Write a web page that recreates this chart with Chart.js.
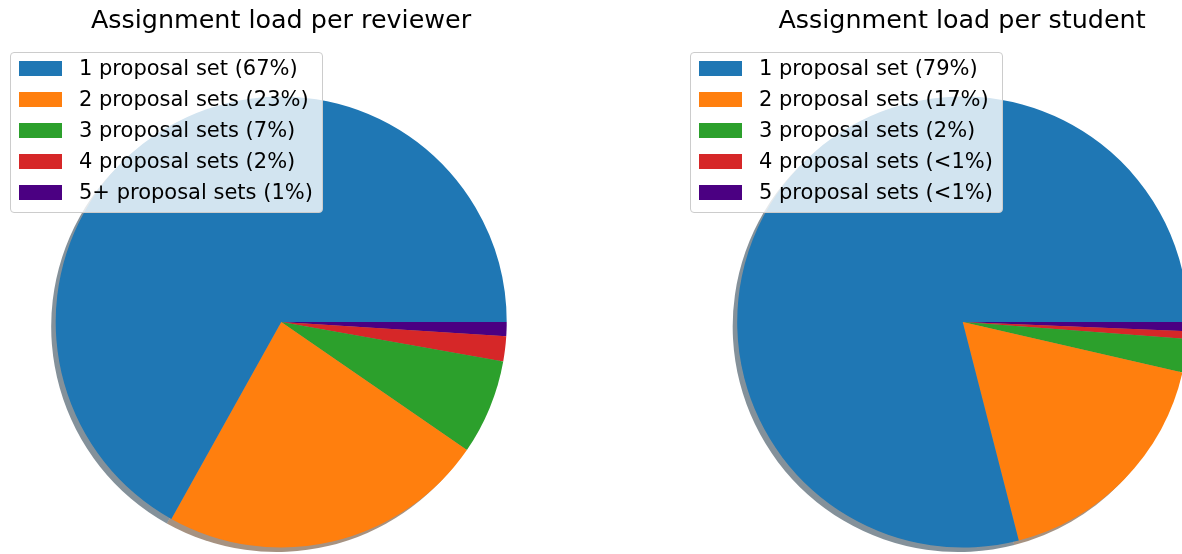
<!DOCTYPE html>
<html>
<head>
<meta charset="utf-8">
<script src="https://cdn.jsdelivr.net/npm/chart.js@4.4.1/dist/chart.umd.min.js"></script>
<style>
  html, body { margin: 0; padding: 0; background: #fff; overflow: hidden; }
  body { width: 1182px; height: 554px; position: relative; font-family: "DejaVu Sans", sans-serif; }
  .wrap { position: absolute; top: 0; height: 554px; }
  .title { position: absolute; top: 7px; font-size: 25.4px; line-height: 25px; color: #000; white-space: nowrap; transform: translateX(-50%); }
  .legend { position: absolute; top: 52px; background: rgba(255,255,255,0.8); border: 1px solid #cccccc; border-radius: 4px; padding: 0 9px 4px 8px; }
  .legend .row { display: flex; align-items: flex-start; height: 31px; line-height: 31px; font-size: 21px; white-space: nowrap; color: #000; }
  .legend .sw { width: 43px; height: 15px; margin-top: 8px; margin-right: 17px; flex: none; }
</style>
</head>
<body>
<div class="wrap" style="left:0;width:591px"><canvas id="pieReviewer" width="591" height="554"></canvas></div>
<div class="wrap" style="left:591px;width:660px"><canvas id="pieStudent" width="660" height="554"></canvas></div>
<div class="title" style="left:281px">Assignment load per reviewer</div>
<div class="title" style="left:962px">Assignment load per student</div>
<div class="legend" id="legReviewer" style="left:10px"></div>
<div class="legend" id="legStudent" style="left:690px"></div>

<script>
const categoriesReviewer = ['1 proposal set', '2 proposal sets', '3 proposal sets', '4 proposal sets', '5+ proposal sets'];
const pctReviewer = ['67%', '23%', '7%', '2%', '1%'];
const valuesReviewer = [66.9, 23.5, 6.8, 1.8, 1.0];

const categoriesStudent = ['1 proposal set', '2 proposal sets', '3 proposal sets', '4 proposal sets', '5 proposal sets'];
const pctStudent = ['79%', '17%', '2%', '<1%', '<1%'];
const valuesStudent = [79.0, 17.4, 2.4, 0.55, 0.65];

const sliceColors = ['#1f77b4', '#ff7f0e', '#2ca02c', '#d62728', '#4b0082'];

function hexToRgb(h) {
  const n = parseInt(h.slice(1), 16);
  return [(n >> 16) & 255, (n >> 8) & 255, n & 255];
}

// matplotlib-style shadow: each wedge offset down-left, 0.3 * colour at half alpha
const pieShadow = {
  id: 'pieShadow',
  beforeDatasetsDraw(chart) {
    const ctx = chart.ctx;
    const meta = chart.getDatasetMeta(0);
    const colors = chart.data.datasets[0].backgroundColor;
    const r0 = meta.data.length ? meta.data[0].outerRadius : 0;
    const off = r0 * 0.02;
    ctx.save();
    meta.data.forEach((arc, i) => {
      const p = arc.getProps(['x', 'y', 'startAngle', 'endAngle', 'outerRadius'], true);
      const c = hexToRgb(colors[i]);
      ctx.fillStyle = 'rgba(' + c.map(v => Math.round(v * 0.3)).join(',') + ',0.5)';
      ctx.beginPath();
      ctx.moveTo(p.x - off, p.y + off);
      ctx.arc(p.x - off, p.y + off, p.outerRadius, p.startAngle, p.endAngle);
      ctx.closePath();
      ctx.fill();
    });
    ctx.restore();
  }
};

function makePie(id, labels, values, padding) {
  // Chart.js draws clockwise, matplotlib counter-clockwise: reverse order, start at 3 o'clock
  return new Chart(document.getElementById(id), {
    type: 'pie',
    data: {
      labels: labels.slice().reverse(),
      datasets: [{
        data: values.slice().reverse(),
        backgroundColor: sliceColors.slice().reverse(),
        borderWidth: 0
      }]
    },
    options: {
      responsive: false,
      animation: false,
      events: [],
      rotation: 90,
      layout: { padding: padding },
      plugins: {
        legend: { display: false },
        title: { display: false },
        tooltip: { enabled: false }
      }
    },
    plugins: [pieShadow]
  });
}

function makeLegend(id, labels, pcts) {
  const el = document.getElementById(id);
  labels.forEach((lab, i) => {
    const row = document.createElement('div');
    row.className = 'row';
    const sw = document.createElement('span');
    sw.className = 'sw';
    sw.style.background = sliceColors[i];
    const tx = document.createElement('span');
    tx.textContent = lab + ' (' + pcts[i] + ')';
    row.appendChild(sw);
    row.appendChild(tx);
    el.appendChild(row);
  });
}

makePie('pieReviewer', categoriesReviewer, valuesReviewer, { left: 55.7, right: 84.3, top: 96.5, bottom: 6.5 });
makePie('pieStudent', categoriesStudent, valuesStudent, { left: 146.2, right: 62.8, top: 96.5, bottom: 6.5 });
makeLegend('legReviewer', categoriesReviewer, pctReviewer);
makeLegend('legStudent', categoriesStudent, pctStudent);
</script>
</body>
</html>
